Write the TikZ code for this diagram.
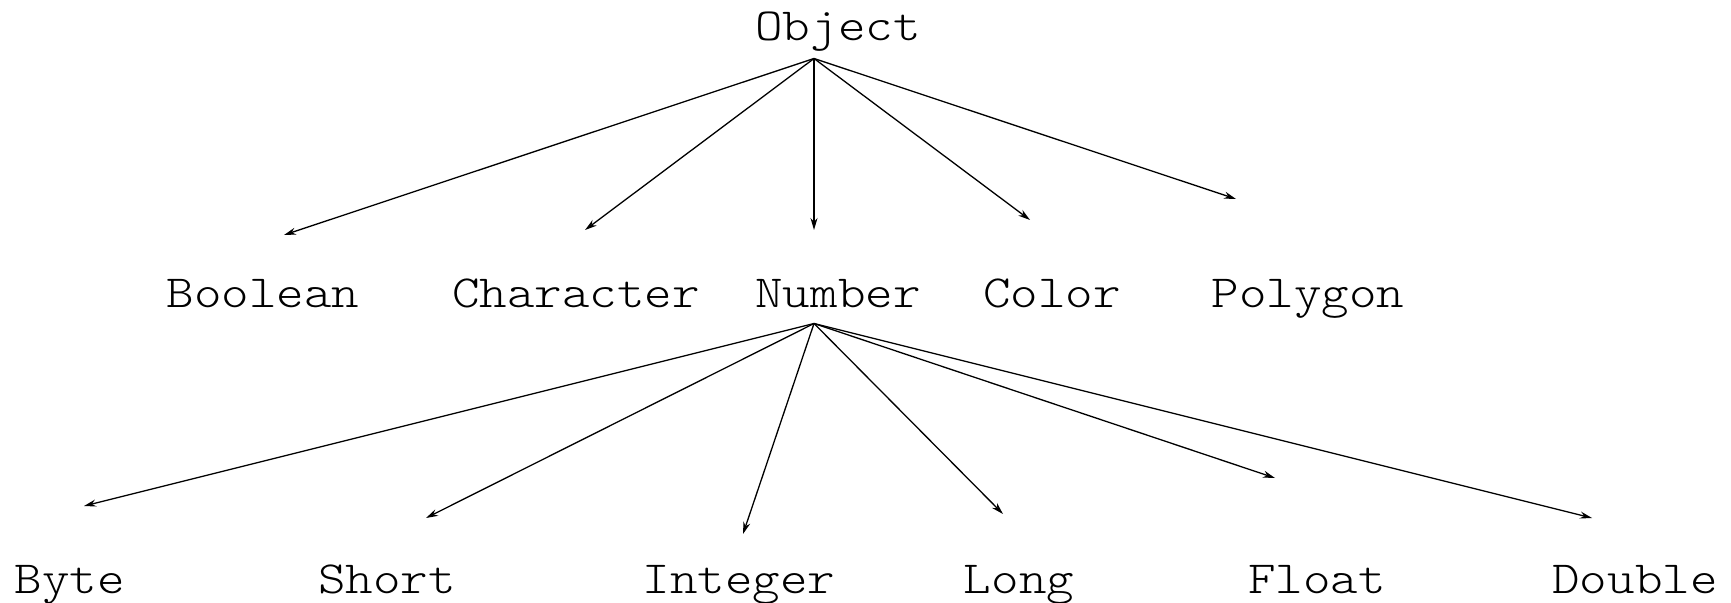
\documentclass[tikz,border=0pt]{standalone}
\usepackage{graphicx}
\usepackage{fontspec}
\newfontfamily\lmlight{Latin Modern Mono Light}
\usetikzlibrary{arrows.meta}
\newcommand{\mylbl}[1]{\scalebox{1.14}[1]{#1}}
\begin{document}
\begin{tikzpicture}[x=1pt,y=-1pt,
  lbl/.style={font=\lmlight\fontsize{46}{50}\selectfont, anchor=base, inner sep=0pt},
  arr/.style={line width=1.3pt, -{Stealth[length=12pt,width=7pt]}}]
\useasboundingbox (0,0) rectangle (1731,602);
% labels
\node[lbl] (obj) at (838,41) {\mylbl{Object}};
\node[lbl] (bool) at (263,307) {\mylbl{Boolean}};
\node[lbl] (char) at (576,307) {\mylbl{Character}};
\node[lbl] (num) at (838,307) {\mylbl{Number}};
\node[lbl] (col) at (1052,307) {\mylbl{Color}};
\node[lbl] (poly) at (1308,307) {\mylbl{Polygon}};
\node[lbl] (byte) at (70,593) {\mylbl{Byte}};
\node[lbl] (short) at (387,593) {\mylbl{Short}};
\node[lbl] (int) at (739,593) {\mylbl{Integer}};
\node[lbl] (long) at (1019,593) {\mylbl{Long}};
\node[lbl] (float) at (1317,593) {\mylbl{Float}};
\node[lbl] (dbl) at (1635,593) {\mylbl{Double}};
% connector ends
\coordinate (objA) at (814,58.5);
\coordinate (numA) at (814,323.5);
\coordinate (boolT) at (284,235);
\coordinate (charT) at (585,230);
\coordinate (numT) at (814,230);
\coordinate (colT) at (1030,220);
\coordinate (polyT) at (1236,199);
\coordinate (byteT) at (84,506);
\coordinate (shortT) at (426,518);
\coordinate (intT) at (743,534);
\coordinate (longT) at (1003,514);
\coordinate (floatT) at (1275,478);
\coordinate (dblT) at (1592,518);
% connectors
\foreach \t in {boolT,charT,numT,colT,polyT} \draw[arr] (objA) -- (\t);
\foreach \t in {byteT,shortT,intT,longT,floatT,dblT} \draw[arr] (numA) -- (\t);
\end{tikzpicture}
\end{document}
